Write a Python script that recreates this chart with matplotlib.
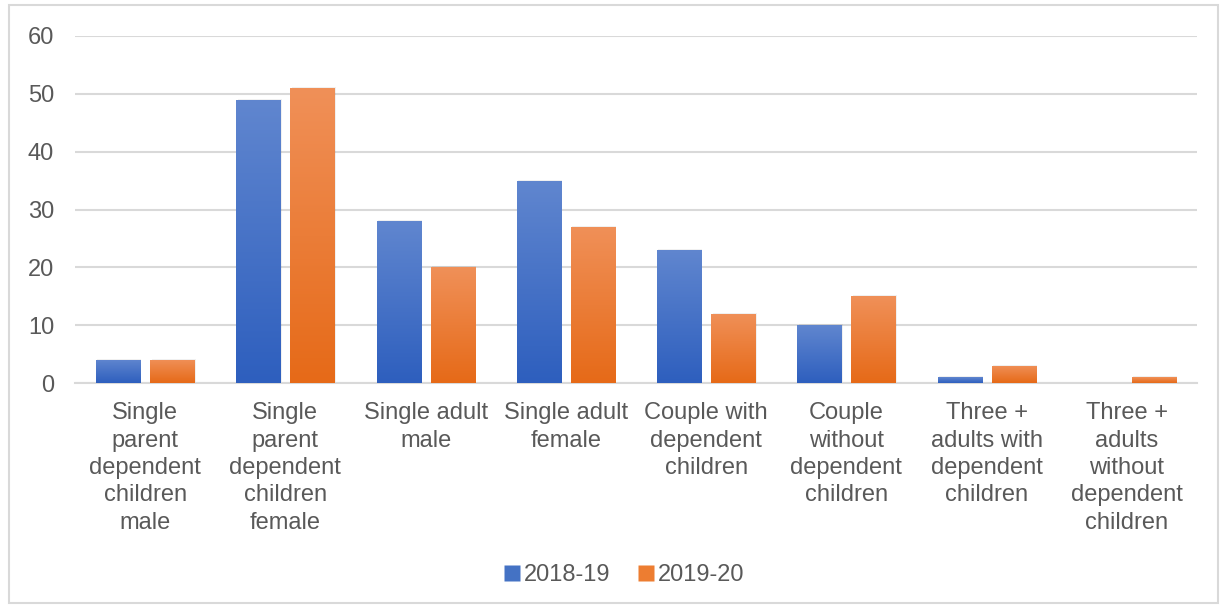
import numpy as np
import matplotlib
matplotlib.use('Agg')
import matplotlib.pyplot as plt
from matplotlib.colors import LinearSegmentedColormap
from matplotlib.lines import Line2D
from matplotlib.patches import Rectangle

# data
categories = ['Single\nparent\ndependent\nchildren\nmale',
              'Single\nparent\ndependent\nchildren\nfemale',
              'Single adult\nmale',
              'Single adult\nfemale',
              'Couple with\ndependent\nchildren',
              'Couple\nwithout\ndependent\nchildren',
              'Three +\nadults with\ndependent\nchildren',
              'Three +\nadults\nwithout\ndependent\nchildren']
vals_1819 = [4, 49, 28, 35, 23, 10, 1, 0]
vals_1920 = [4, 51, 20, 27, 12, 15, 3, 1]
series_names = ['2018-19', '2019-20']

plt.rcParams['font.family'] = ['Liberation Sans', 'DejaVu Sans']
txt = '#595959'
grid_c = '#D9D9D9'

fig = plt.figure(figsize=(12.23, 6.08), dpi=100)
ax = fig.add_axes([75/1223, 1-383/608, 1122/1223, 347/608])

# gradient colours (bottom -> top)
blue_cm = LinearSegmentedColormap.from_list('b', ['#2E5FBE', '#6086CF'])
orange_cm = LinearSegmentedColormap.from_list('o', ['#E66A18', '#F09058'])

x = np.arange(len(categories))
w = 0.314
off = 0.193
grad = np.linspace(0, 1, 100).reshape(-1, 1)

def gradient_bars(xs, vals, cmap):
    bars = ax.bar(xs, vals, w, facecolor='none', edgecolor='none', zorder=3)
    for b in bars:
        if b.get_height() <= 0:
            continue
        bx, by = b.get_x(), b.get_y()
        bw, bh = b.get_width(), b.get_height()
        # soft shadow
        ax.add_patch(Rectangle((bx + 0.01, by), bw, bh + 0.15, facecolor='#000000',
                               alpha=0.06, edgecolor='none', zorder=2))
        im = ax.imshow(grad, extent=[bx, bx + bw, by, by + bh], origin='lower',
                       cmap=cmap, aspect='auto', zorder=3)
        im.set_clip_path(b)

gradient_bars(x - off, vals_1819, blue_cm)
gradient_bars(x + off, vals_1920, orange_cm)

ax.set_xlim(-0.5, len(categories) - 0.5)
ax.set_ylim(0, 60)
ax.set_yticks(range(0, 61, 10))
ax.yaxis.grid(True, color=grid_c, linewidth=1.5, zorder=0)
ax.set_axisbelow(True)
for s in ['top', 'right', 'left']:
    ax.spines[s].set_visible(False)
ax.spines['bottom'].set_color(grid_c)
ax.spines['bottom'].set_linewidth(1.5)
ax.tick_params(axis='y', length=0, pad=15, labelsize=17, labelcolor=txt)
ax.tick_params(axis='x', length=0, pad=14, labelsize=17, labelcolor=txt)
ax.set_xticks(x)
ax.set_xticklabels(categories, linespacing=1.31)

handles = [Line2D([], [], marker='s', linestyle='none', markersize=11,
                  markerfacecolor='#4472C4', markeredgecolor='none'),
           Line2D([], [], marker='s', linestyle='none', markersize=11,
                  markerfacecolor='#ED7D31', markeredgecolor='none')]
fig.legend(handles, series_names, loc='center', bbox_to_anchor=(622/1223, 1-575/608),
           ncol=2, frameon=False, fontsize=17, labelcolor=txt,
           handletextpad=0.0, columnspacing=1.0, handlelength=1.0)

fig.patches.append(Rectangle((9/1223, 5/608), 1209/1223, 598/608, transform=fig.transFigure,
                             fill=False, edgecolor=grid_c, linewidth=1.5))

fig.savefig('out.png', dpi=100)
